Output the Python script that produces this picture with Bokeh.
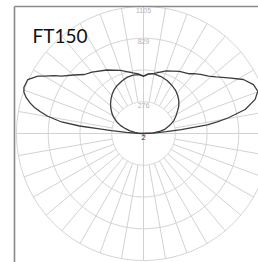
import numpy as np
from bokeh.plotting import figure
from bokeh.models import Range1d
from bokeh.core.properties import value
from bokeh.embed import file_html
from bokeh.resources import INLINE

# ---- data (candela, angle from vertical in degrees) ----
title = "FT150"
ring_values = [276.25, 552.5, 828.75, 1105]
ring_labels = ["276", "", "829", "1105"]
center_label = "2"
spoke_step_deg = 10

# C0 plane (right half of wide batwing curve)
wide_right_angles = [0, 5, 10, 20, 30, 37, 40, 44, 48.6, 52, 56.8, 61.6, 66, 69.7, 73, 76.7, 79.5, 81, 82.2, 83, 84, 85.5, 87.5, 90]
wide_right_values = [500, 520, 532, 580, 625, 651, 680, 715, 754, 800, 884, 988, 1047, 1060, 1016, 909, 752, 650, 560, 450, 330, 200, 80, 0]
# C180 plane (left half of wide curve)
wide_left_angles = [0, 5, 10, 20, 30, 40, 45, 50, 55, 57, 60, 61.5, 65, 69, 71, 73, 75, 76.6, 78, 79.8, 82, 83.3, 84, 85, 86.5, 88.5, 90]
wide_left_values = [500, 520, 535, 585, 638, 697, 726, 792, 870, 925, 1000, 1046, 1111, 1115, 1100, 1067, 1020, 975, 920, 847, 720, 560, 400, 280, 150, 50, 0]
# C90 plane (right half of round curve)
round_right_angles = [0, 5, 10, 17, 24, 30, 37, 42, 47, 52, 56, 61, 67, 72, 78, 82, 86, 90]
round_right_values = [500, 520, 527, 518, 505, 488, 466, 445, 420, 390, 359, 325, 287, 245, 196, 150, 85, 0]
# C270 plane (left half of round curve)
round_left_angles = [0, 5, 10, 16, 22, 29, 34, 38, 43, 48, 53, 58, 62, 67, 71, 75, 79, 83, 87, 90]
round_left_values = [500, 515, 515, 510, 495, 476, 458, 440, 414, 386, 355, 322, 292, 249, 210, 162, 120, 75, 35, 0]

# ---- layout ----
W, H = 258, 262
k = 1105 / 127.0          # candela per pixel
cx, cy = 143, 133         # centre in figure pixels from top-left

p = figure(width=W, height=H, output_backend="svg", toolbar_location=None,
           x_range=Range1d(-cx * k, (W - cx) * k),
           y_range=Range1d(-(H - cy) * k, cy * k),
           x_axis_type=None, y_axis_type=None, min_border=0)
p.grid.visible = False
p.outline_line_color = None
p.background_fill_color = "white"
p.border_fill_color = "white"

grid_col = "#d2d2d2"
# rings
for r in ring_values:
    t = np.linspace(0, 2 * np.pi, 361)
    p.line(r * np.sin(t), r * np.cos(t), line_color=grid_col, line_width=1)
# spokes
ang = np.deg2rad(np.arange(0, 360, spoke_step_deg))
r0 = np.where(np.isclose(np.mod(np.rad2deg(ang), 90), 0), 0, ring_values[0])
r1 = ring_values[-1]
p.segment(r0 * np.sin(ang), r0 * np.cos(ang), r1 * np.sin(ang), r1 * np.cos(ang),
          line_color=grid_col, line_width=1)

def polar(angles, vals, sign):
    a = np.deg2rad(np.array(angles, float))
    v = np.array(vals, float)
    return sign * v * np.sin(a), v * np.cos(a)

curve_col = "#3c3c3c"
lx, ly = polar(wide_left_angles, wide_left_values, -1)
rx, ry = polar(wide_right_angles, wide_right_values, 1)
p.line(np.concatenate([lx[::-1], rx]), np.concatenate([ly[::-1], ry]),
       line_color=curve_col, line_width=1.3)
lx, ly = polar(round_left_angles, round_left_values, -1)
rx, ry = polar(round_right_angles, round_right_values, 1)
p.line(np.concatenate([lx[::-1], rx]), np.concatenate([ly[::-1], ry]),
       line_color=curve_col, line_width=1.3)

# ring labels
lab_r = [r for r, t in zip(ring_values, ring_labels) if t]
lab_t = [t for t in ring_labels if t]
p.text(x=[0] * len(lab_r), y=lab_r, text=lab_t, text_align="center", text_baseline="top",
       y_offset=1, text_font=value("Liberation Sans"), text_font_size="7px", text_color="#b4b4b4")
p.text(x=[0], y=[0], text=[center_label], text_align="center", text_baseline="top",
       y_offset=1, text_font=value("Liberation Sans"), text_font_size="8px", text_color="#333333")

# frame lines (left and top)
left_x = -(cx - 14) * k
top_y = (cy - 6) * k
p.segment([left_x, left_x], [top_y, top_y], [left_x, (W - cx) * k], [-(H - cy) * k, top_y],
          line_color="#8a8a8a", line_width=1.6)

# title in the top-left corner
p.text(x=[-(cx - 32) * k], y=[(cy - 35) * k], text=[title], text_align="left",
       text_baseline="middle", text_font=value("Lato"), text_font_size="19px",
       text_color="#111111")

open("out.html", "w").write(file_html(p, INLINE))
